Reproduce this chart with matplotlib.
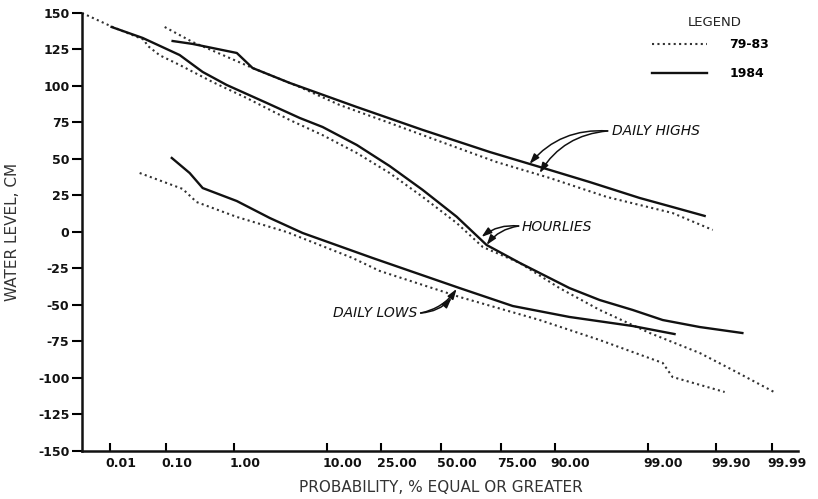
import numpy as np
import matplotlib
matplotlib.use("Agg")
import matplotlib.pyplot as plt
import matplotlib.transforms as mtransforms
from statistics import NormalDist

nd = NormalDist()

# probability (% equal or greater) vs water level (cm)
hourly_7983_p = [0.0028, 0.0114, 0.044, 0.048, 0.080, 0.168, 0.52, 1.46, 4.5, 9.2, 17.3,
                 28.3, 42.0, 57.1, 68.2, 81.3, 90.9, 96.3, 99.06, 99.82, 99.948, 99.991]
hourly_7983_cm = [150, 140.4, 131.5, 128, 121, 114.4, 102.7, 91.8, 76.7, 66.4, 54.1,
                  40.4, 24.0, 6.2, -10.3, -21.2, -38.4, -53.4, -69.2, -82.9, -94.5, -109.6]

hourly_1984_p = [0.0109, 0.0407, 0.168, 0.375, 0.81, 2.53, 5.66, 9.24, 17.3, 28.3, 42.0,
                 57.1, 69.7, 81.3, 92.6, 96.3, 98.45, 99.37, 99.82, 99.965]
hourly_1984_cm = [140.4, 132.9, 121.2, 109.6, 100.7, 88.4, 78.1, 71.9, 59.6, 45.2, 28.8,
                  10.5, -8.9, -21.2, -38.4, -46.6, -53.4, -60.3, -65.1, -69.2]

highs_7983_p = [0.0965, 0.266, 0.428, 1.73, 5.66, 12.8, 28.3, 54.0, 73.5, 88.97, 96.9,
                99.54, 99.888]
highs_7983_cm = [140.4, 130.1, 126.0, 112.3, 99.3, 87.0, 74.7, 59.6, 47.9, 37.0, 24.0,
                 13.0, 1.4]

highs_1984_p = [0.130, 0.266, 1.10, 1.73, 4.49, 17.3, 42.0, 70.9, 88.97, 95.3, 98.73,
                99.54, 99.849]
highs_1984_cm = [130.8, 128.8, 122.6, 112.3, 102.1, 85.6, 69.9, 54.8, 42.5, 34.2, 23.3,
                 17.1, 11.0]

lows_7983_p = [0.036, 0.187, 0.305, 1.10, 4.18, 16.1, 24.7, 58.4, 86.7, 96.3, 99.37,
               99.54, 99.929]
lows_7983_cm = [40.4, 29.5, 20.5, 10.3, 0.0, -17.8, -26.7, -44.5, -60.3, -74.0, -89.7,
                -99.3, -109.6]

lows_1984_p = [0.126, 0.240, 0.375, 1.10, 2.74, 6.05, 22.2, 58.4, 79.1, 92.6, 98.45, 99.57]
lows_1984_cm = [50.7, 40.4, 30.1, 21.2, 9.6, -0.7, -17.8, -38.4, -50.7, -58.2, -64.4, -69.9]

x_ticks = [0.01, 0.10, 1.00, 10.00, 25.00, 50.00, 75.00, 90.00, 99.00, 99.90, 99.99]
x_labels = ["0.01", "0.10", "1.00", "10.00", "25.00", "50.00", "75.00", "90.00",
            "99.00", "99.90", "99.99"]
y_ticks = list(range(150, -151, -25))
y_labels = [str(v) for v in y_ticks]


_ppf = np.vectorize(lambda p: nd.inv_cdf(min(max(p / 100.0, 1e-12), 1 - 1e-12)), otypes=[float])
_cdf = np.vectorize(lambda z: 100.0 * nd.cdf(z), otypes=[float])


def forward(p):
    return _ppf(np.asarray(p, dtype=float))


def inverse(z):
    return _cdf(np.asarray(z, dtype=float))


fig = plt.figure(figsize=(8.18, 4.99), dpi=100)
ax = fig.add_axes([0.1002, 0.0962, 0.8754, 0.8778])
ax.set_xscale("function", functions=(forward, inverse))

dot = dict(color="#333333", lw=1.5, ls=(0, (1, 1.6)))
sol = dict(color="#111111", lw=1.7)
ax.plot(hourly_7983_p, hourly_7983_cm, **dot, label="79-83")
ax.plot(hourly_1984_p, hourly_1984_cm, **sol, label="1984")
ax.plot(highs_7983_p, highs_7983_cm, **dot)
ax.plot(highs_1984_p, highs_1984_cm, **sol)
ax.plot(lows_7983_p, lows_7983_cm, **dot)
ax.plot(lows_1984_p, lows_1984_cm, **sol)

ax.set_xlim(100 * nd.cdf(-4.03), 100 * nd.cdf(4.015))
ax.set_ylim(-150, 150)

for s in ["top", "right"]:
    ax.spines[s].set_visible(False)
for s in ["left", "bottom"]:
    ax.spines[s].set_linewidth(1.8)
    ax.spines[s].set_color("#111111")

tick_font = dict(fontsize=9, fontweight="bold", color="#111111")
ax.set_xticks(x_ticks)
ax.set_xticklabels(x_labels, **tick_font)
ax.minorticks_off()
ax.set_yticks(y_ticks)
ax.set_yticklabels(y_labels, **tick_font)
ax.tick_params(axis="x", direction="in", length=6, width=1.5, pad=4)
ax.tick_params(axis="y", direction="out", length=7, width=1.5, pad=2)
shift = mtransforms.ScaledTranslation(-4 / 100, 0, fig.dpi_scale_trans)
for lab in ax.get_xticklabels():
    lab.set_horizontalalignment("left")
    lab.set_transform(lab.get_transform() + shift)

fig.text(0.015, 1 - 232 / 499, "WATER LEVEL, CM", rotation=90, ha="center", va="center",
         fontsize=11, color="#333333")
fig.text(441 / 818, 1 - 487 / 499, "PROBABILITY, % EQUAL OR GREATER", ha="center",
         va="center", fontsize=11, color="#333333")

# curve labels with arrows
lab_font = dict(fontsize=10, fontstyle="italic", color="#111111")
ax.text(97.26, 69.2, "DAILY HIGHS", ha="left", va="center", **lab_font)
ax.text(81.9, 3.4, "HOURLIES", ha="left", va="center", **lab_font)
ax.text(39.8, -55.5, "DAILY LOWS", ha="right", va="center", **lab_font)

arr = dict(arrowstyle="-|>,head_length=0.6,head_width=0.2", color="#111111", lw=1.1,
           shrinkA=0, shrinkB=0)
ax.annotate("", xy=(84.1, 46.6), xytext=(96.97, 69.2),
            arrowprops=dict(arr, connectionstyle="arc3,rad=0.25"))
ax.annotate("", xy=(86.7, 40.4), xytext=(96.97, 69.2),
            arrowprops=dict(arr, connectionstyle="arc3,rad=0.25"))
ax.annotate("", xy=(67.7, -3.4), xytext=(80.95, 4.1),
            arrowprops=dict(arr, connectionstyle="arc3,rad=0.2"))
ax.annotate("", xy=(69.7, -8.9), xytext=(80.95, 4.1),
            arrowprops=dict(arr, connectionstyle="arc3,rad=0.2"))
ax.annotate("", xy=(57.1, -39.0), xytext=(41.1, -55.5),
            arrowprops=dict(arr, connectionstyle="arc3,rad=0.2"))
ax.annotate("", xy=(54.9, -45.2), xytext=(41.1, -55.5),
            arrowprops=dict(arr, connectionstyle="arc3,rad=0.2"))

fig.text(715 / 818, 1 - 22 / 499, "LEGEND", ha="center", va="center", fontsize=9.5,
         color="#222222")
leg = ax.legend(loc="upper left", bbox_to_anchor=(652 / 818, 1 - 38 / 499),
                bbox_transform=fig.transFigure, frameon=False,
                handlelength=4.4, handletextpad=1.8, labelspacing=1.3, borderpad=0,
                borderaxespad=0, prop=dict(size=9, weight="bold"))

fig.savefig("out.png", dpi=100, facecolor="white")
